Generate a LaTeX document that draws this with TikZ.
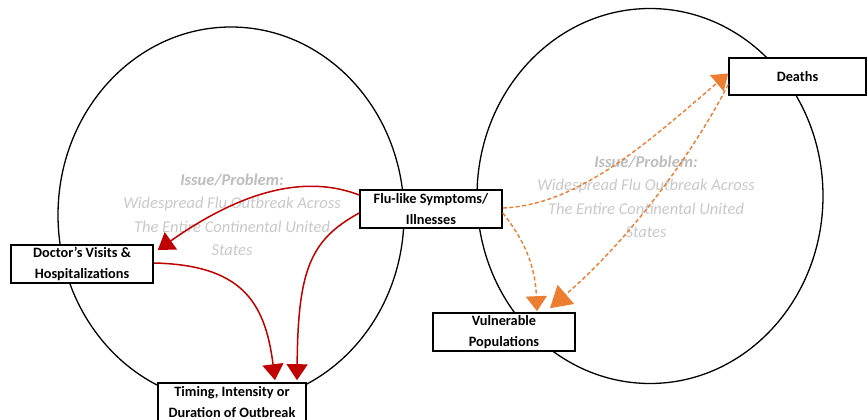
\documentclass[tikz,border=0pt]{standalone}
\usepackage{fontspec}
\setmainfont{Carlito}
\usetikzlibrary{arrows.meta}
\definecolor{redarrow}{HTML}{C00000}
\definecolor{orangearrow}{HTML}{ED7D31}
\definecolor{issuegray}{HTML}{C9C9C9}
\definecolor{issuegraybold}{HTML}{BDBDBD}
\begin{document}
\begin{tikzpicture}[x=1pt,y=-1pt,
  ring/.style={draw=black,line width=1.3pt},
  factor/.style={draw=black,fill=white,line width=1.6pt,inner sep=0pt,
    align=center,font=\fontsize{14.3}{21}\selectfont\bfseries},
  issue/.style={align=center,text=issuegray,
    font=\fontsize{16.5}{23.5}\selectfont\itshape},
  redlink/.style={draw=redarrow,line width=1.5pt,
    -{Triangle[length=16pt,width=21pt]}},
  orangelink/.style={draw=orangearrow,line width=1.4pt,
    dash pattern=on 4pt off 2.5pt,
    -{Triangle[length=15pt,width=21pt]}},
  biglink/.style={orangelink,-{Triangle[length=21pt,width=25pt]}}]
\clip (0,0) rectangle (868,420);
\fill[white] (0,0) rectangle (868,420);

% the two systems
\draw[ring] (231,215) ellipse [x radius=173pt, y radius=188pt];
\draw[ring] (650,196) ellipse [x radius=173pt, y radius=187.5pt];

% problem statements inside each system
\node[issue] (issueL) at (232,215)
  {\textcolor{issuegraybold}{\bfseries Issue/Problem:}\\
   Widespread Flu Outbreak Across\\
   The Entire Continental United\\
   States};
\node[issue] (issueR) at (646,197)
  {\textcolor{issuegraybold}{\bfseries Issue/Problem:}\\
   Widespread Flu Outbreak Across\\
   The Entire Continental United\\
   States};

% factor boxes
\node[factor,minimum width=142pt,minimum height=38pt] (doctor) at (82,264)
  {Doctor’s Visits \&\\Hospitalizations};
\node[factor,minimum width=142pt,minimum height=38pt] (flu) at (431,209)
  {Flu-like Symptoms/\\Illnesses};
\node[factor,minimum width=137pt,minimum height=37pt] (deaths) at (797.5,76.5)
  {Deaths};
\node[factor,minimum width=142pt,minimum height=38pt] (vulnerable) at (504,332)
  {Vulnerable\\Populations};
\node[factor,minimum width=148pt,minimum height=38pt] (timing) at (232,402)
  {Timing, Intensity or\\Duration of Outbreak};

% red links
\draw[redlink] ([yshift=14pt]flu.west)
  .. controls (320,180) and (260,178) .. ([xshift=4pt,yshift=14pt]doctor.east);
\draw[redlink] ([yshift=-4pt]flu.west)
  .. controls (310,240) and (298,270) .. ([xshift=65pt,yshift=2pt]timing.north);
\draw[redlink] ([yshift=1pt]doctor.east)
  .. controls (240,265) and (265,300) .. ([xshift=43pt,yshift=2pt]timing.north);

% orange dashed links
\draw[orangelink] ([yshift=1pt]flu.east)
  .. controls (580,205) and (650,140) .. ([yshift=3pt]deaths.west);
\draw[biglink] ([yshift=-8pt]deaths.west)
  .. controls (700,140) and (640,230) .. ([xshift=46pt,yshift=4pt]vulnerable.north);
\draw[orangelink] ([yshift=-4pt]flu.east)
  .. controls (520,235) and (535,260) .. ([xshift=33pt,yshift=1pt]vulnerable.north);
\end{tikzpicture}
\end{document}
